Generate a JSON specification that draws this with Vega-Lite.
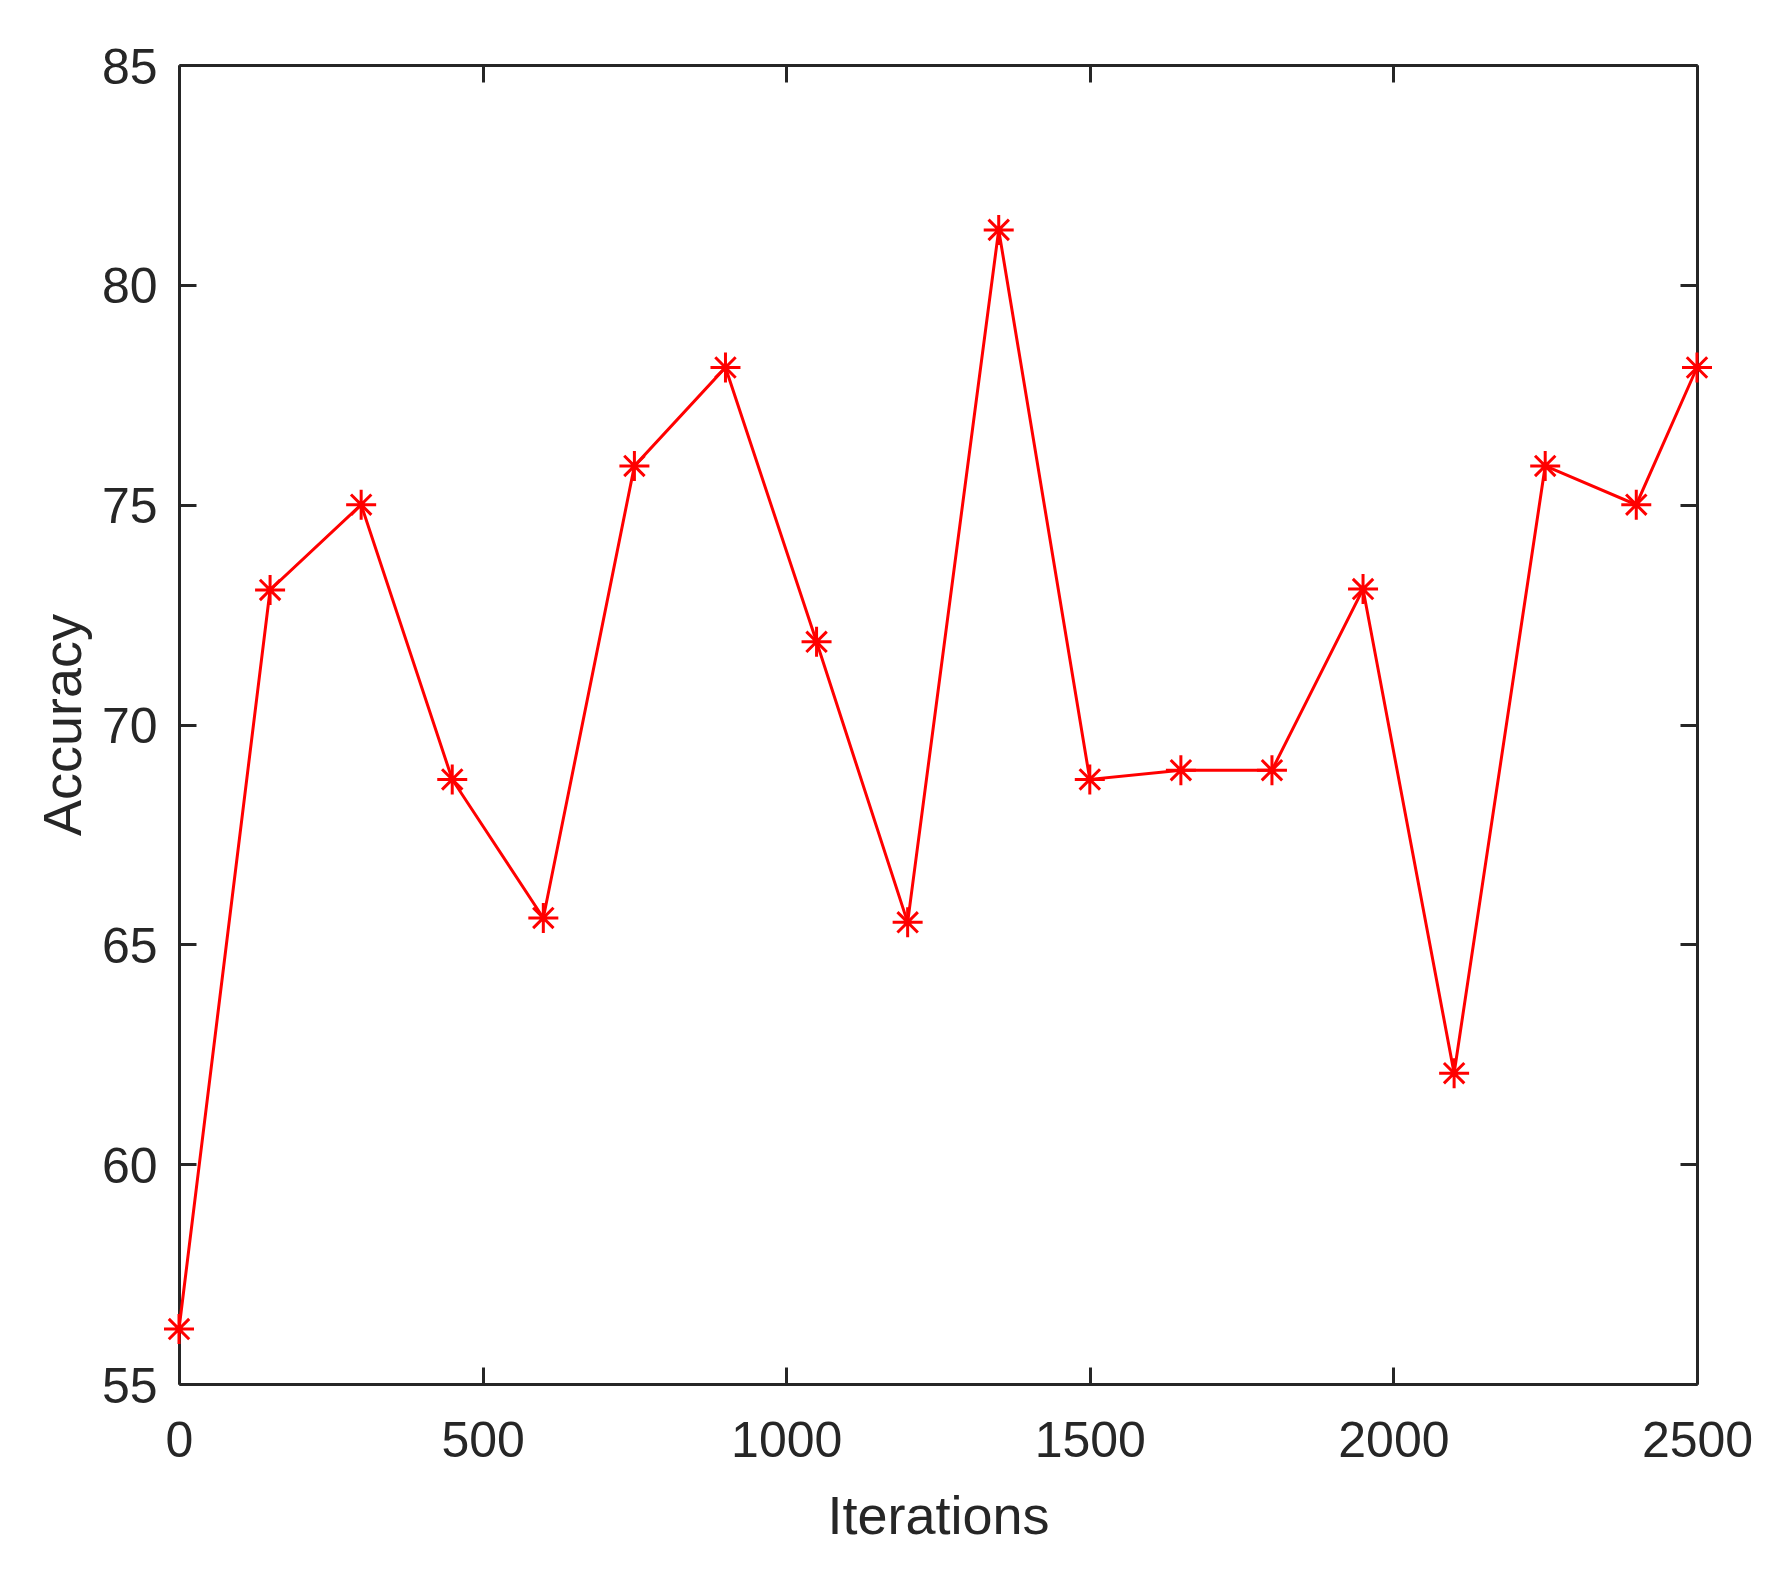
{
  "$schema": "https://vega.github.io/schema/vega-lite/v6.json",
  "width": 1518,
  "height": 1319,
  "autosize": "none",
  "padding": {"left": 179, "top": 65, "right": 82, "bottom": 187},
  "background": "white",
  "data": {
    "values": [
      {"iterations": 0, "accuracy": 56.25},
      {"iterations": 150, "accuracy": 73.06},
      {"iterations": 300, "accuracy": 75.0},
      {"iterations": 450, "accuracy": 68.75},
      {"iterations": 600, "accuracy": 65.6},
      {"iterations": 750, "accuracy": 75.88},
      {"iterations": 900, "accuracy": 78.12},
      {"iterations": 1050, "accuracy": 71.88},
      {"iterations": 1200, "accuracy": 65.5},
      {"iterations": 1350, "accuracy": 81.25},
      {"iterations": 1500, "accuracy": 68.75},
      {"iterations": 1650, "accuracy": 68.96},
      {"iterations": 1800, "accuracy": 68.96},
      {"iterations": 1950, "accuracy": 73.08},
      {"iterations": 2100, "accuracy": 62.07},
      {"iterations": 2250, "accuracy": 75.88},
      {"iterations": 2400, "accuracy": 75.0},
      {"iterations": 2500, "accuracy": 78.12}
    ]
  },
  "layer": [
    {
      "mark": {"type": "line", "color": "#ff0000", "strokeWidth": 3},
      "encoding": {
        "x": {
          "field": "iterations", "type": "quantitative",
          "scale": {"domain": [0, 2500], "nice": false, "zero": false},
          "axis": {
            "orient": "bottom", "values": [0, 500, 1000, 1500, 2000, 2500],
            "format": "d",
            "title": "Iterations", "labelPadding": 49,
            "titleBaseline": "alphabetic", "titleY": 149
          }
        },
        "y": {
          "field": "accuracy", "type": "quantitative",
          "scale": {"domain": [55, 85], "nice": false, "zero": false},
          "axis": {
            "orient": "left", "values": [55, 60, 65, 70, 75, 80, 85],
            "format": "d",
            "title": "Accuracy", "labelPadding": 39, "labelOffset": 3,
            "titleBaseline": "alphabetic", "titleX": -99, "titleAngle": -90
          }
        }
      }
    },
    {
      "mark": {
        "type": "point",
        "shape": "M-1,0L1,0M0,-1L0,1M-0.68,-0.68L0.68,0.68M-0.68,0.68L0.68,-0.68",
        "size": 900, "filled": false, "stroke": "#ff0000", "strokeWidth": 3, "opacity": 1
      },
      "encoding": {
        "x": {
          "field": "iterations", "type": "quantitative",
          "axis": {"orient": "top", "values": [0, 500, 1000, 1500, 2000, 2500], "labels": false, "title": null}
        },
        "y": {
          "field": "accuracy", "type": "quantitative",
          "axis": {"orient": "right", "values": [55, 60, 65, 70, 75, 80, 85], "labels": false, "title": null}
        }
      }
    }
  ],
  "resolve": {"axis": {"x": "independent", "y": "independent"}},
  "config": {
    "view": {"stroke": null},
    "axis": {
      "grid": false,
      "domainColor": "#262626", "domainWidth": 3,
      "tickColor": "#262626", "tickWidth": 3, "tickSize": -17,
      "labelFont": "Liberation Sans", "labelFontSize": 50, "labelColor": "#262626",
      "labelFlush": false, "labelOverlap": false,
      "titleFont": "Liberation Sans", "titleFontSize": 54, "titleFontWeight": "normal", "titleColor": "#262626"
    }
  }
}
